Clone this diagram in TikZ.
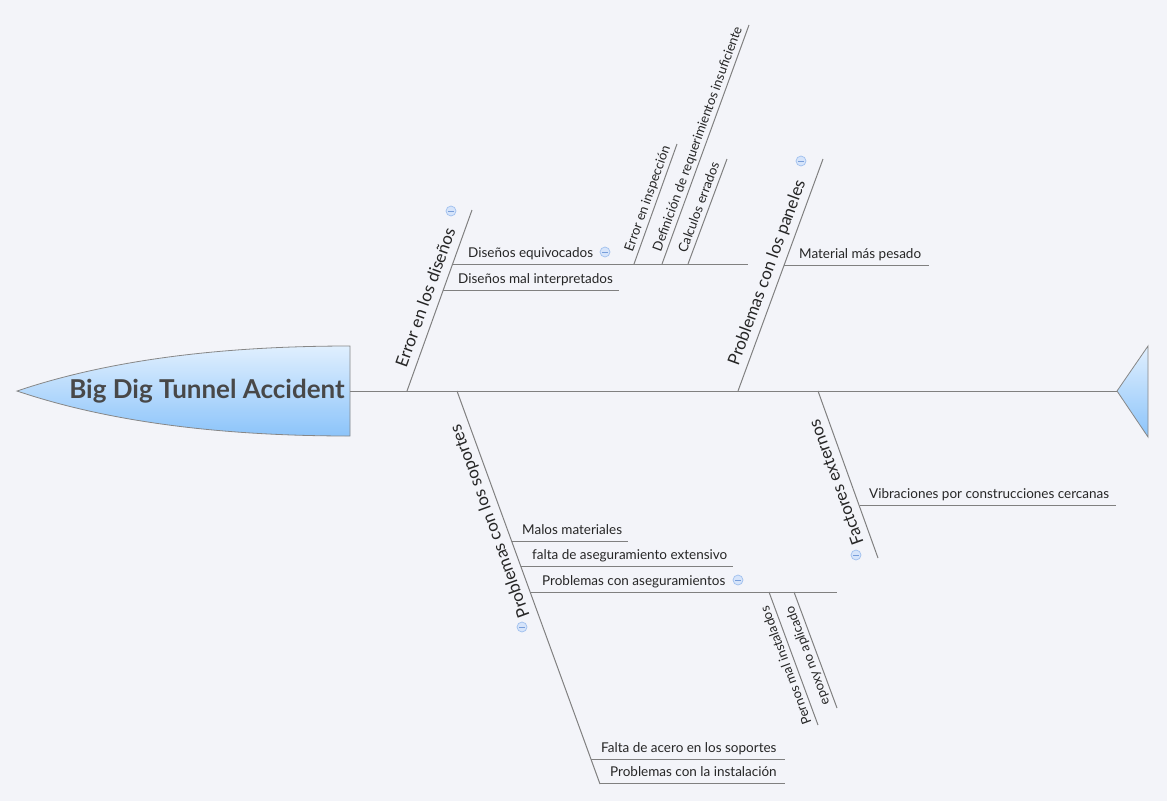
\documentclass[tikz,border=0pt]{standalone}
\usepackage{fontspec}
\setmainfont{Lato}
\usetikzlibrary{calc}
\definecolor{bgc}{RGB}{243,244,249}
\definecolor{bonec}{RGB}{128,128,128}
\definecolor{txtc}{RGB}{38,38,38}
\definecolor{titlec}{RGB}{72,72,72}
\definecolor{headtop}{RGB}{224,239,254}
\definecolor{headbot}{RGB}{140,196,250}
\definecolor{headedge}{RGB}{135,135,135}
\definecolor{iconfill}{RGB}{214,228,250}
\definecolor{iconedge}{RGB}{160,192,238}
\definecolor{iconbar}{RGB}{120,158,218}
\tikzset{
  bone/.style={draw=bonec, line width=1pt},
  fishpart/.style={draw=headedge, line width=0.8pt, top color=headtop, bottom color=headbot},
  titlelabel/.style={anchor=base east, inner sep=0pt, text=titlec, font=\fontsize{26}{30}\selectfont\bfseries},
  leaflabel/.style={anchor=base west, inner sep=0pt, text=txtc, font=\fontsize{13.5}{16}\selectfont},
  catlabel/.style={sloped, allow upside down, anchor=south, text depth=0pt, inner xsep=0pt, inner ysep=8pt, text=txtc, font=\fontsize{17}{20}\selectfont},
  sublabel/.style={sloped, allow upside down, anchor=south, text depth=0pt, inner xsep=0pt, inner ysep=5pt, text=txtc, font=\fontsize{13.2}{15}\selectfont},
  minusbtn/.style={circle, draw=iconedge, fill=iconfill, line width=0.7pt, minimum size=10pt, inner sep=0pt,
    path picture={\draw[iconbar, line width=0.9pt] ([xshift=-2.6pt]path picture bounding box.center) -- ([xshift=2.6pt]path picture bounding box.center);}}
}
\begin{document}
\begin{tikzpicture}[x=1pt,y=-1pt]
\fill[bgc] (0,0) rectangle (1167,801);
\useasboundingbox (0,0) rectangle (1167,801);

% head and tail
\draw[fishpart] (17,391) .. controls (105.7,361) and (216.7,346) .. (350,346) -- (350,436) .. controls (216.7,436) and (105.7,421) .. (17,391) -- cycle;
\coordinate (headE) at (350,391);
\node[titlelabel] (title) at (345,398) {Big Dig Tunnel Accident};
\draw[fishpart] (1117,391) -- (1148,346) -- (1148,437) -- cycle;
\coordinate (tailW) at (1117,391);
\draw[bone] (headE) -- (tailW);

% ---- Error en los diseños
\coordinate (eB) at (407,391);
\coordinate (eT) at (472,210);
\draw[bone] (eB) -- (eT);
\path (eB) -- (eT) node[catlabel, pos=0.49] (lE) {Error en los diseños};
\node[minusbtn] (iE) at (451,211) {};

\coordinate (deA) at (453,264);
\coordinate (deB) at (748,264);
\draw[bone] (deA) -- (deB);
\node[leaflabel] (tDE) at (468,257) {Diseños equivocados};
\node[minusbtn] (iDE) at (605,252) {};

\coordinate (eiB) at (634,264);
\coordinate (eiT) at (677,144);
\draw[bone] (eiB) -- (eiT);
\path (eiB) -- (eiT) node[sublabel, pos=0.52] (tEI) {Error en inspección};

\coordinate (drB) at (662,264);
\coordinate (drT) at (749,25);
\draw[bone] (drB) -- (drT);
\path (drB) -- (drT) node[sublabel, pos=0.51] (tDR) {Definición de requerimientos insuficiente};

\coordinate (ceB) at (688,264);
\coordinate (ceT) at (727,159);
\draw[bone] (ceB) -- (ceT);
\path (ceB) -- (ceT) node[sublabel, pos=0.51] (tCE) {Calculos errados};

\coordinate (dmA) at (443,290);
\coordinate (dmB) at (619,290);
\draw[bone] (dmA) -- (dmB);
\node[leaflabel] (tDM) at (458,283) {Diseños mal interpretados};

% ---- Problemas con los paneles
\coordinate (pB) at (738,391);
\coordinate (pT) at (823,159);
\draw[bone] (pB) -- (pT);
\path (pB) -- (pT) node[catlabel, pos=0.49] (lP) {Problemas con los paneles};
\node[minusbtn] (iP) at (801,161) {};

\coordinate (mpA) at (784,265);
\coordinate (mpB) at (929,265);
\draw[bone] (mpA) -- (mpB);
\node[leaflabel] (tMP) at (799,258) {Material más pesado};

% ---- Problemas con los soportes
\coordinate (sT) at (457,391);
\coordinate (sB) at (600,784);
\draw[bone] (sT) -- (sB);
\path (sB) -- (sT) node[catlabel, pos=0.68] (lS) {Problemas con los soportes};
\node[minusbtn] (iS) at (522,627) {};

\coordinate (mmA) at (512,541);
\coordinate (mmB) at (628,541);
\draw[bone] (mmA) -- (mmB);
\node[leaflabel] (tMM) at (522,534) {Malos materiales};

\coordinate (faA) at (521,566);
\coordinate (faB) at (733,566);
\draw[bone] (faA) -- (faB);
\node[leaflabel] (tFA) at (532,559) {falta de aseguramiento extensivo};

\coordinate (paA) at (530,592);
\coordinate (paB) at (837,592);
\draw[bone] (paA) -- (paB);
\node[leaflabel] (tPA) at (542,585) {Problemas con aseguramientos};
\node[minusbtn] (iPA) at (738,580) {};

\coordinate (piT) at (769,592);
\coordinate (piB) at (818,725);
\draw[bone] (piT) -- (piB);
\path (piB) -- (piT) node[sublabel, pos=0.47] (tPI) {Pernos mal instalados};

\coordinate (epT) at (794,592);
\coordinate (epB) at (837,708);
\draw[bone] (epT) -- (epB);
\path (epB) -- (epT) node[sublabel, pos=0.48] (tEP) {epoxy no aplicado};

\coordinate (fsA) at (591,759);
\coordinate (fsB) at (785,759);
\draw[bone] (fsA) -- (fsB);
\node[leaflabel] (tFS) at (601,752) {Falta de acero en los soportes};

\coordinate (plA) at (600,783);
\coordinate (plB) at (785,783);
\draw[bone] (plA) -- (plB);
\node[leaflabel] (tPL) at (610,776) {Problemas con la instalación};

% ---- Factores externos
\coordinate (fT) at (818,391);
\coordinate (fB) at (878,558);
\draw[bone] (fT) -- (fB);
\path (fB) -- (fT) node[catlabel, pos=0.48] (lF) {Factores externos};
\node[minusbtn] (iF) at (856,555) {};

\coordinate (vcA) at (860,505);
\coordinate (vcB) at (1116,505);
\draw[bone] (vcA) -- (vcB);
\node[leaflabel] (tVC) at (869,498) {Vibraciones por construcciones cercanas};
\end{tikzpicture}
\end{document}
